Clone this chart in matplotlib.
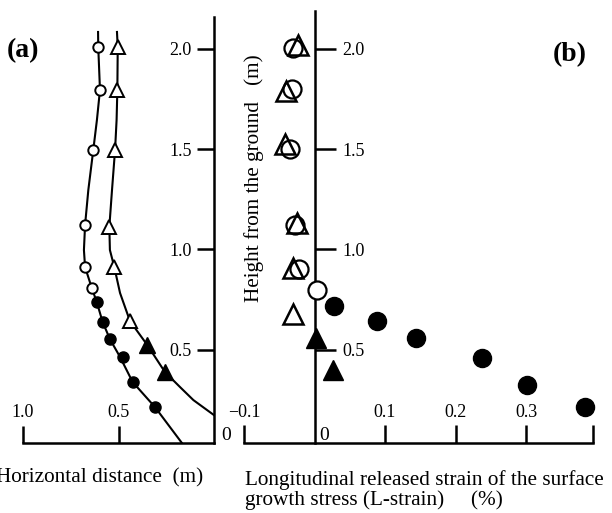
import numpy as np
import matplotlib.pyplot as plt

plt.rcParams['font.family'] = ['Liberation Serif', 'DejaVu Serif']

# ---- (a) horizontal distance (m) vs height (m) ----
open_circ_d = [0.606, 0.597, 0.632, 0.675, 0.675, 0.640]
open_circ_h = [2.007, 1.795, 1.496, 1.122, 0.914, 0.806]
fill_circ_d = [0.614, 0.583, 0.545, 0.475, 0.426, 0.309]
fill_circ_h = [0.739, 0.639, 0.553, 0.462, 0.338, 0.216]
open_tri_d = [0.504, 0.506, 0.518, 0.548, 0.522, 0.440]
open_tri_h = [2.007, 1.795, 1.496, 1.113, 0.914, 0.645]
fill_tri_d = [0.349, 0.257]
fill_tri_h = [0.523, 0.390]

# stem curves
curve_circ_d = [0.607, 0.606, 0.597, 0.613, 0.632, 0.658, 0.675, 0.681, 0.675,
                0.640, 0.614, 0.583, 0.545, 0.492, 0.426, 0.309, 0.168]
curve_circ_h = [2.084, 2.009, 1.795, 1.645, 1.496, 1.296, 1.122, 0.997, 0.912,
                0.808, 0.738, 0.638, 0.553, 0.464, 0.339, 0.214, 0.035]
curve_tri_d = [0.508, 0.504, 0.506, 0.510, 0.518, 0.534, 0.548, 0.545, 0.522,
               0.492, 0.440, 0.349, 0.257, 0.178, 0.108, 0.0]
curve_tri_h = [2.084, 2.009, 1.795, 1.645, 1.496, 1.296, 1.112, 0.997, 0.912,
               0.783, 0.643, 0.523, 0.389, 0.314, 0.249, 0.174]

# ---- (b) L-strain (%) vs height (m) ----
b_open_tri_s = [-0.023, -0.041, -0.042, -0.025, -0.030, -0.030]
b_open_tri_h = [2.02, 1.79, 1.525, 1.134, 0.907, 0.680]
b_open_circ_s = [-0.030, -0.032, -0.035, -0.028, -0.022, 0.0035]
b_open_circ_h = [2.006, 1.80, 1.503, 1.122, 0.90, 0.80]
b_fill_circ_s = [0.028, 0.089, 0.144, 0.238, 0.302, 0.383]
b_fill_circ_h = [0.720, 0.645, 0.558, 0.459, 0.324, 0.214]
b_fill_tri_s = [0.002, 0.026]
b_fill_tri_h = [0.556, 0.399]

W, H = 612, 513
fig = plt.figure(figsize=(W/100, H/100), dpi=100)

ybot, ytop = 0.035, 2.2
y0px, y1px = 443, 8.7

def px_axes(x0, x1):
    return fig.add_axes([x0/W, (H-y0px)/H, (x1-x0)/W, (y0px-y1px)/H])

lw_sp = 1.8
tick_fs = 13

###---panel (a)---###
ax1 = px_axes(23, 214)
ax1.set_xlim(1.0, 0.0)
ax1.set_ylim(ybot, ytop)
ax1.plot(curve_circ_d, curve_circ_h, c="k", lw=1.5, zorder=2)
ax1.plot(curve_tri_d, curve_tri_h, c="k", lw=1.5, zorder=2)
ax1.plot(open_circ_d, open_circ_h, "o", ms=7.5, mfc="w", mec="k", mew=1.4, ls="none", zorder=3, clip_on=False)
ax1.plot(fill_circ_d, fill_circ_h, "o", ms=8, mfc="k", mec="k", ls="none", zorder=3, clip_on=False)
ax1.plot(open_tri_d, open_tri_h, "^", ms=10.5, mfc="w", mec="k", mew=1.4, ls="none", zorder=3, clip_on=False)
ax1.plot(fill_tri_d, fill_tri_h, "^", ms=11, mfc="k", mec="k", ls="none", zorder=3, clip_on=False)
for s in ["top", "right"]:
    ax1.spines[s].set_visible(False)
ax1.spines["left"].set_position(("data", 0))
ax1.spines["left"].set_bounds(ybot, 2.16)
for s in ["left", "bottom"]:
    ax1.spines[s].set_linewidth(lw_sp)
ax1.set_xticks([1.0, 0.5])
ax1.set_xticklabels(["1.0", "0.5"])
ax1.tick_params(axis="x", direction="in", length=12, width=lw_sp, pad=-28, labelsize=tick_fs)
ax1.set_yticks([0.5, 1.0, 1.5, 2.0])
ax1.set_yticklabels(["0.5", "1.0", "1.5", "2.0"])
ax1.tick_params(axis="y", direction="out", length=12, width=lw_sp, pad=4, labelsize=tick_fs)
ax1.annotate("0", (0, ybot), xytext=(5.5, -1), textcoords="offset points",
             ha="left", va="bottom", fontsize=14, annotation_clip=False)
ax1.patch.set_visible(False)

###---panel (b)---###
ax2 = px_axes(244, 593)
ax2.set_xlim(-0.1, 0.395)
ax2.set_ylim(ybot, ytop)
ax2.plot(b_open_circ_s, b_open_circ_h, "o", ms=13, mfc="w", mec="k", mew=1.6, ls="none", zorder=3, clip_on=False)
ax2.plot(b_open_tri_s, b_open_tri_h, "^", ms=14.5, mfc="none", mec="k", mew=1.8, ls="none", zorder=3, clip_on=False)
ax2.plot(b_fill_circ_s, b_fill_circ_h, "o", ms=13, mfc="k", mec="k", ls="none", zorder=3, clip_on=False)
ax2.plot(b_fill_tri_s, b_fill_tri_h, "^", ms=15, mfc="k", mec="k", ls="none", zorder=3, clip_on=False)
for s in ["top", "left"]:
    ax2.spines[s].set_visible(False)
ax2.spines["right"].set_position(("data", 0))
ax2.spines["right"].set_bounds(ybot, 2.19)
for s in ["right", "bottom"]:
    ax2.spines[s].set_linewidth(lw_sp)
ax2.yaxis.tick_right()
ax2.set_xticks([-0.1, 0.1, 0.2, 0.3, 0.395])
ax2.set_xticklabels(["\u22120.1", "0.1", "0.2", "0.3", ""])
ax2.tick_params(axis="x", direction="in", length=13, width=lw_sp, pad=-28, labelsize=tick_fs)
ax2.set_yticks([0.5, 1.0, 1.5, 2.0])
ax2.set_yticklabels(["0.5", "1.0", "1.5", "2.0"])
ax2.tick_params(axis="y", direction="out", length=15, width=lw_sp, pad=5, labelsize=tick_fs)
ax2.annotate("0", (0, ybot), xytext=(3.5, -1), textcoords="offset points",
             ha="left", va="bottom", fontsize=14, annotation_clip=False)
ax2.patch.set_visible(False)

###---texts---###
fs_lab = 15.3
fig.text(254/W, 1-178/H, "Height from the ground   (m)", rotation=90,
         ha="center", va="center", fontsize=fs_lab)
fig.text(203/W, 1-482/H, "Horizontal distance  (m)", ha="right", va="baseline", fontsize=fs_lab)
fig.text(245/W, 1-485.5/H, "Longitudinal released strain of the surface",
         ha="left", va="baseline", fontsize=fs_lab)
fig.text(245/W, 1-505/H, "growth stress (L-strain)     (%)",
         ha="left", va="baseline", fontsize=fs_lab)
fig.text(7/W, 1-57/H, "(a)", ha="left", va="baseline", fontsize=20, fontweight="bold")
fig.text(553/W, 1-61/H, "(b)", ha="left", va="baseline", fontsize=20, fontweight="bold")

fig.savefig("out.png", dpi=100)
